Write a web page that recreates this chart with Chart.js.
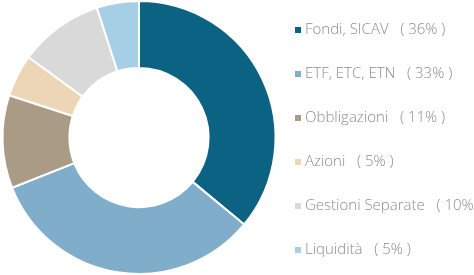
<!DOCTYPE html>
<html>
<head>
<meta charset="utf-8">
<script src="https://cdn.jsdelivr.net/npm/chart.js@4.4.1/dist/chart.umd.min.js"></script>
<style>
  html, body { margin: 0; padding: 0; background: #fff; }
  #wrap { width: 474px; height: 275px; position: relative; }
</style>
</head>
<body>
<div id="wrap"><canvas id="grafico"></canvas></div>
<script>
// dati del grafico
const categorie = ['Fondi, SICAV', 'ETF, ETC, ETN', 'Obbligazioni', 'Azioni', 'Gestioni Separate', 'Liquidità']
const percentuali = [36, 33, 11, 5, 10, 5]
const colori = ['#0b6282', '#80adca', '#a99b86', '#ecd6b6', '#d9d9d9', '#a6cee4']

// legenda disegnata a mano a destra
const legendaDestra = {
  id: 'legendaDestra',
  afterDraw(chart) {
    const ctx = chart.ctx
    ctx.save()
    ctx.font = '300 15px "Open Sans", Lato, sans-serif'
    ctx.textBaseline = 'middle'
    categorie.forEach((nome, i) => {
      const y = 30 + i * 44
      ctx.fillStyle = colori[i]
      ctx.fillRect(295, y - 3, 6, 6)
      ctx.fillStyle = '#8c8c8c'
      ctx.fillText(nome + '   ( ' + percentuali[i] + '% )', 305, y)
    })
    ctx.restore()
  }
}

const ctx = document.getElementById('grafico').getContext('2d')

const graficoTorta = new Chart(ctx, {
  type: 'doughnut',
  data: {
    labels: categorie,
    datasets: [{
      data: percentuali,
      backgroundColor: colori,
      borderColor: '#fff',
      borderWidth: 2
    }]
  },
  options: {
    responsive: true,
    maintainAspectRatio: false,
    animation: false,
    cutout: '51%',
    layout: {
      padding: { left: 0, right: 196, top: 0, bottom: 0 }
    },
    plugins: {
      legend: { display: false },
      tooltip: { enabled: false }
    }
  },
  plugins: [legendaDestra]
})
</script>
</body>
</html>
